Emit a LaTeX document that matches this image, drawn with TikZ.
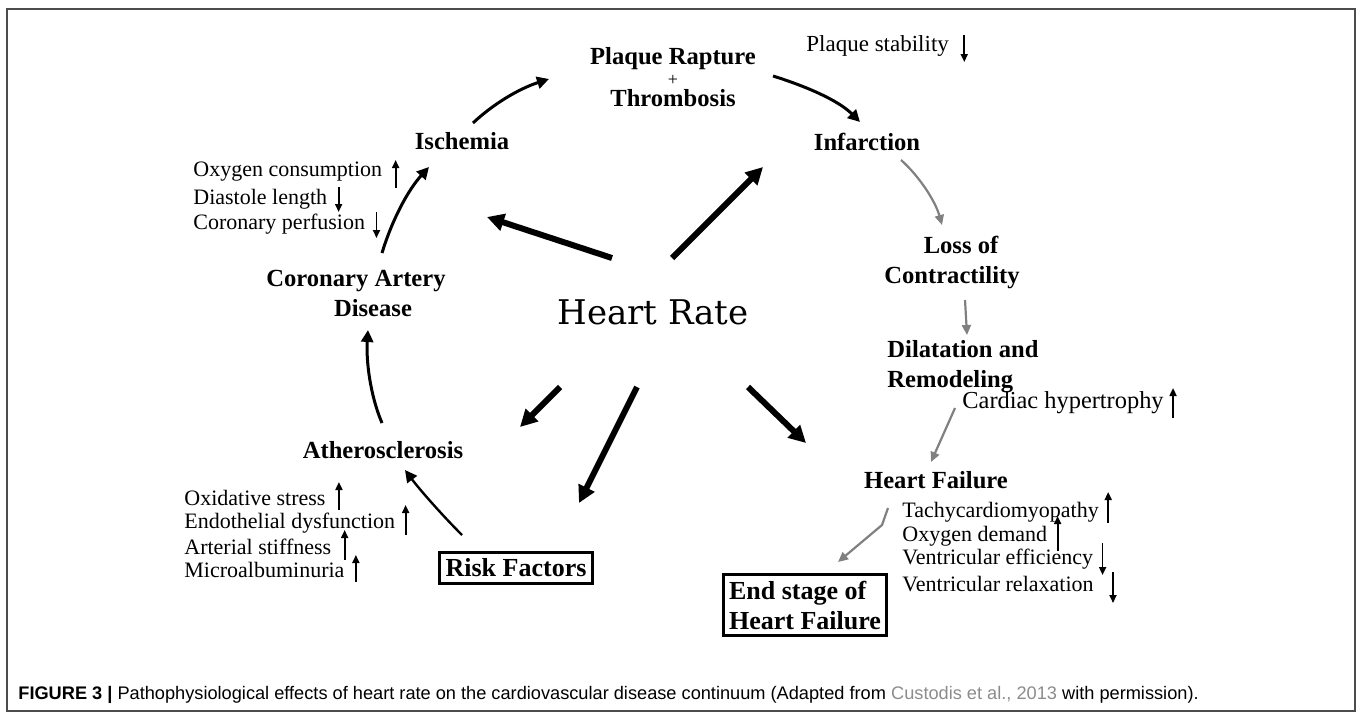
\documentclass[tikz,border=0pt]{standalone}
\usepackage{fontspec}
\setmainfont{Liberation Serif}
\setsansfont{Liberation Sans}
\newfontfamily\hrfont{DejaVu Serif}
\usetikzlibrary{arrows.meta}
\definecolor{captiongrey}{gray}{0.55}

\begin{document}
\begin{tikzpicture}[x=0.5pt,y=-0.5pt,
  stage/.style={font=\bfseries\fontsize{12.3}{15}\selectfont,align=center,inner sep=0pt},
  note/.style={font=\fontsize{11}{12}\selectfont,anchor=west,inner sep=0pt},
  endbox/.style={draw,line width=1.5pt,font=\bfseries\fontsize{13}{15}\selectfont,inner sep=3pt},
  cyclearrow/.style={line width=1.5pt,-{Triangle[length=6pt,width=6pt]}},
  hrarrow/.style={line width=3pt,-{Triangle[length=8.5pt,width=8.5pt]}},
  greyarrow/.style={draw=gray,line width=1.1pt,-{Triangle[length=5pt,width=4.5pt]},gray},
  trend/.style={line width=0.9pt,-{Triangle[length=4pt,width=3.5pt]}}]
\useasboundingbox (0,0) rectangle (1358,712);
\draw[draw=gray!60!black,line width=1pt] (7,9) rectangle (1355,711);

% stages of the continuum
\node[stage] (plaque) at (673,59) {Plaque Rapture};
\node[stage,font=\fontsize{9}{9}\selectfont] (plus) at (673,80) {+};
\node[stage] (thromb) at (673,98) {Thrombosis};
\node[stage] (isch) at (462,141) {Ischemia};
\node[stage] (infarct) at (867,142) {Infarction};
\node[stage] (loss) at (952,262) {\hspace*{9pt}Loss of\\Contractility};
\node[stage,align=left,anchor=west] (dilat) at (887,367) {Dilatation and\\Remodeling};
\node[stage] (hf) at (936,480) {Heart Failure};
\node[stage] (cad) at (356,293) {Coronary Artery\\\hspace*{17pt}Disease};
\node[stage] (athero) at (383,450) {Atherosclerosis};
\node[endbox] (risk) at (516,568) {Risk Factors};
\node[endbox,align=left] (endhf) at (805,605) {End stage of\\Heart Failure};
\node[font=\hrfont\fontsize{17}{20}\selectfont,inner sep=0pt] (hr) at (653,312) {Heart Rate};

% annotations
\node[note] (oxcon) at (193,172) {Oxygen consumption};
\node[note] (diast) at (193,199) {Diastole length};
\node[note] (coper) at (193,224) {Coronary perfusion};
\node[note] (oxstr) at (184,498) {Oxidative stress};
\node[note] (endo) at (184,523) {Endothelial dysfunction};
\node[note] (arter) at (184,547) {Arterial stiffness};
\node[note] (micro) at (184,570) {Microalbuminuria};
\node[note] (tachy) at (902,512) {Tachycardiomyopathy};
\node[note] (oxdem) at (902,536) {Oxygen demand};
\node[note] (veff) at (902,559) {Ventricular efficiency};
\node[note] (vrel) at (902,584) {Ventricular relaxation};
\node[note,font=\fontsize{11.5}{12}\selectfont] (stab) at (806,46) {Plaque stability};
\node[note,font=\fontsize{12.2}{14}\selectfont] (hyper) at (962,403) {Cardiac hypertrophy};

\draw[trend] ([shift={(13,16)}]oxcon.east) -- ++(0,-28);
\draw[trend] ([shift={(11,-12)}]diast.east) -- ++(0,25);
\draw[trend] ([shift={(11,-12)}]coper.east) -- ++(0,26);
\draw[trend] ([shift={(13,12)}]oxstr.east) -- ++(0,-28);
\draw[trend] ([shift={(10,12)}]endo.east) -- ++(0,-30);
\draw[trend] ([shift={(13,13)}]arter.east) -- ++(0,-30);
\draw[trend] ([shift={(11,12)}]micro.east) -- ++(0,-27);
\draw[trend] ([shift={(9,11)}]tachy.east) -- ++(0,-31);
\draw[trend] ([shift={(10,15)}]oxdem.east) -- ++(0,-35);
\draw[trend] ([shift={(9,-16)}]veff.east) -- ++(0,32);
\draw[trend] ([shift={(19,-12)}]vrel.east) -- ++(0,31);
\draw[trend] ([shift={(15,-11)}]stab.east) -- ++(0,27);
\draw[trend] ([shift={(9,15)}]hyper.east) -- ++(0,-30);

% arrow ends
\coordinate (hrA) at (612,258);
\coordinate (hrB) at (672,258);
\coordinate (hrC) at (560,387);
\coordinate (hrD) at (637,387);
\coordinate (hrE) at (748,387);
\coordinate (ischIn) at (487,217);
\coordinate (infIn) at (763,167);
\coordinate (athIn) at (520,427);
\coordinate (riskIn) at (579,503);
\coordinate (hfIn) at (806,443);
\coordinate (ischOut) at (473,123);
\coordinate (plaqIn) at (549,79);
\coordinate (plaqOut) at (773,76);
\coordinate (infarctIn) at (860,122);
\coordinate (cadOut) at (382,253);
\coordinate (cadIn) at (368,330);
\coordinate (ischIn2) at (429,167);
\coordinate (athOut) at (382,423);
\coordinate (riskOut) at (462,535);
\coordinate (athIn2) at (405,470);
\coordinate (infOut) at (901,160);
\coordinate (lossIn) at (942,225);
\coordinate (lossOut) at (965,300);
\coordinate (dilIn) at (967,335);
\coordinate (dilOut) at (955,408);
\coordinate (hfIn2) at (931,462);
\coordinate (hfOut) at (888,508);
\coordinate (hfBend) at (882,525);
\coordinate (endIn) at (838,562);

% heart rate effects
\draw[hrarrow] (hrA) -- (ischIn);
\draw[hrarrow] (hrB) -- (infIn);
\draw[hrarrow] (hrC) -- (athIn);
\draw[hrarrow] (hrD) -- (riskIn);
\draw[hrarrow] (hrE) -- (hfIn);

% continuum
\draw[cyclearrow] (ischOut) .. controls (492,105) and (518,89) .. (plaqIn);
\draw[cyclearrow] (plaqOut) .. controls (805,86) and (838,100) .. (infarctIn);
\draw[cyclearrow] (cadOut) .. controls (392,220) and (408,190) .. (ischIn2);
\draw[cyclearrow] (athOut) .. controls (370,395) and (366,360) .. (cadIn);
\draw[cyclearrow,line width=1.2pt] (riskOut) .. controls (442,515) and (420,490) .. (athIn2);
\draw[greyarrow] (infOut) .. controls (918,175) and (935,200) .. (lossIn);
\draw[greyarrow] (lossOut) -- (dilIn);
\draw[greyarrow] (dilOut) -- (hfIn2);
\draw[greyarrow] (hfOut) -- (hfBend) -- (endIn);

\node[anchor=west,font=\sffamily\fontsize{9.1}{10}\selectfont,inner sep=0pt] (caption) at (18,695)
  {\textbf{FIGURE 3 |} Pathophysiological effects of heart rate on the cardiovascular disease continuum (Adapted from \textcolor{captiongrey}{Custodis et al., 2013} with permission).};
\end{tikzpicture}
\end{document}
